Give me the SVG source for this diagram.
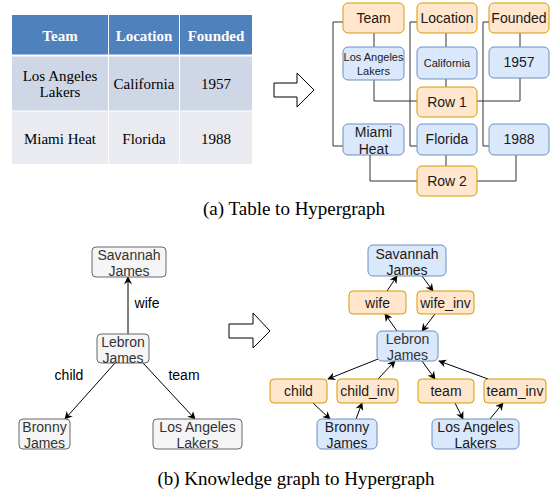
<svg xmlns="http://www.w3.org/2000/svg" width="554" height="495" viewBox="0 0 554 495">
<style>
.tt{font-family:"Liberation Serif","Times New Roman",serif;font-size:15px;fill:#000;text-anchor:middle}
.th{font-family:"Liberation Serif","Times New Roman",serif;font-size:15px;font-weight:bold;fill:#fff;text-anchor:middle}
.cap{font-family:"Liberation Serif","Times New Roman",serif;font-size:19px;fill:#000;text-anchor:middle}
.s{font-family:"Liberation Sans",Arial,sans-serif;font-size:14px;fill:#1a1a1a;text-anchor:middle}
.sm{font-family:"Liberation Sans",Arial,sans-serif;font-size:11px;fill:#1a1a1a;text-anchor:middle}
.g{font-family:"Liberation Sans",Arial,sans-serif;font-size:14px;fill:#333;text-anchor:middle}
.lb{font-family:"Liberation Sans",Arial,sans-serif;font-size:14px;fill:#000;text-anchor:middle}
.o{fill:#ffe6cc;stroke:#d79b00;stroke-width:1}
.b{fill:#dae8fc;stroke:#6c8ebf;stroke-width:1}
.gr{fill:#f5f5f5;stroke:#666;stroke-width:1}
.ln{fill:none;stroke:#333;stroke-width:1}
.ar{fill:none;stroke:#000;stroke-width:1;marker-end:url(#ah)}
.big{fill:#fff;stroke:#000;stroke-width:1}
</style>
<defs>
<marker id="ah" viewBox="0 0 10 10" refX="9" refY="5" markerWidth="8" markerHeight="8" markerUnits="userSpaceOnUse" orient="auto">
<path d="M0,0 L10,5 L0,10 L3,5 z" fill="#000"/>
</marker>
</defs>

<!-- Table -->
<g id="table">
<rect x="12" y="15" width="240" height="40" fill="#4f81bd"/>
<rect x="12" y="56" width="240" height="55" fill="#cfd7e6"/>
<rect x="12" y="111" width="240" height="53" fill="#e9ebf0"/>
<line x1="108.5" y1="15" x2="108.5" y2="164" stroke="#fff" stroke-width="1"/>
<line x1="179.5" y1="15" x2="179.5" y2="164" stroke="#fff" stroke-width="1"/>
<line x1="12" y1="55.5" x2="252" y2="55.5" stroke="#fff" stroke-width="2"/>
<line x1="12" y1="111" x2="252" y2="111" stroke="#fff" stroke-width="1"/>
<text class="th" x="60" y="41">Team</text>
<text class="th" x="144" y="41">Location</text>
<text class="th" x="216" y="41">Founded</text>
<text class="tt" x="60" y="81">Los Angeles</text>
<text class="tt" x="60" y="97">Lakers</text>
<text class="tt" x="144" y="89">California</text>
<text class="tt" x="216" y="89">1957</text>
<text class="tt" x="60" y="144">Miami Heat</text>
<text class="tt" x="144" y="144">Florida</text>
<text class="tt" x="216" y="144">1988</text>
</g>

<g id="bigarrow1"><polygon class="big" points="274,83 297,83 297,73 314,90 297,107 297,97 274,97"/></g>

<!-- Top hypergraph connectors -->
<g id="hyper-connectors">
<polyline class="ln" points="343,22 333,22 333,146 343,146"/>
<polyline class="ln" points="417,22 410,22 410,146 417,146"/>
<polyline class="ln" points="489,22 483,22 483,146 489,146"/>
<line class="ln" x1="374" y1="33" x2="374" y2="47"/>
<line class="ln" x1="446" y1="33" x2="446" y2="47"/>
<line class="ln" x1="520" y1="33" x2="520" y2="47"/>
<polyline class="ln" points="374,80 374,101 417,101"/>
<polyline class="ln" points="477,101 520,101 520,78"/>
<line class="ln" x1="446" y1="79" x2="446" y2="87"/>
<polyline class="ln" points="370,155 370,181 417,181"/>
<polyline class="ln" points="477,181 516,181 516,155"/>
<line class="ln" x1="446" y1="155" x2="446" y2="166"/>
</g>

<g id="h-team"><rect class="o" x="343" y="3" width="61" height="30" rx="5"/><text class="s" x="373.5" y="23">Team</text></g>
<g id="h-location"><rect class="o" x="417" y="3" width="60" height="30" rx="5"/><text class="s" x="447" y="23">Location</text></g>
<g id="h-founded"><rect class="o" x="489" y="3" width="60" height="30" rx="5"/><text class="s" x="519" y="23">Founded</text></g>
<g id="h-lal"><rect class="b" x="343" y="47" width="61" height="33" rx="5"/><text class="sm" x="373.5" y="61">Los Angeles</text><text class="sm" x="373.5" y="75">Lakers</text></g>
<g id="h-california"><rect class="b" x="417" y="47" width="60" height="32" rx="5"/><text class="sm" x="447" y="67">California</text></g>
<g id="h-1957"><rect class="b" x="489" y="47" width="60" height="31" rx="5"/><text class="s" x="519" y="67">1957</text></g>
<g id="h-row1"><rect class="o" x="417" y="87" width="60" height="30" rx="5"/><text class="s" x="447" y="107">Row 1</text></g>
<g id="h-miami"><rect class="b" x="343" y="124" width="61" height="31" rx="5"/><text class="s" x="373.5" y="137">Miami</text><text class="s" x="373.5" y="154">Heat</text></g>
<g id="h-florida"><rect class="b" x="417" y="124" width="60" height="31" rx="5"/><text class="s" x="447" y="144">Florida</text></g>
<g id="h-1988"><rect class="b" x="489" y="124" width="60" height="31" rx="5"/><text class="s" x="519" y="144">1988</text></g>
<g id="h-row2"><rect class="o" x="417" y="166" width="60" height="30" rx="5"/><text class="s" x="447" y="186">Row 2</text></g>

<text class="cap" x="294" y="215">(a) Table to Hypergraph</text>

<!-- Knowledge graph -->
<g id="kg-connectors">
<line class="ar" x1="128" y1="334" x2="128" y2="277"/>
<line class="ar" x1="115" y1="363" x2="65" y2="419"/>
<line class="ar" x1="143" y1="363" x2="195" y2="419"/>
<text class="lb" x="147" y="308">wife</text>
<text class="lb" x="69" y="380">child</text>
<text class="lb" x="184" y="380">team</text>
</g>
<g id="kg-savannah"><rect class="gr" x="92" y="247" width="74" height="30" rx="4"/><text class="g" x="129" y="260">Savannah</text><text class="g" x="129" y="276">James</text></g>
<g id="kg-lebron"><rect class="gr" x="97" y="334" width="52" height="29" rx="4"/><text class="g" x="123" y="347">Lebron</text><text class="g" x="123" y="363">James</text></g>
<g id="kg-bronny"><rect class="gr" x="19" y="419" width="51" height="30" rx="4"/><text class="g" x="44.5" y="432">Bronny</text><text class="g" x="44.5" y="448">James</text></g>
<g id="kg-lal"><rect class="gr" x="153" y="419" width="89" height="30" rx="4"/><text class="g" x="197.5" y="432">Los Angeles</text><text class="g" x="197.5" y="448">Lakers</text></g>

<g id="bigarrow2"><polygon class="big" points="229,324 253,324 253,313 270,331 253,348 253,338 229,338"/></g>

<!-- Hypergraph from KG -->
<g id="hkg-connectors">
<line class="ar" x1="387" y1="291" x2="397" y2="276"/>
<line class="ar" x1="422" y1="276" x2="433" y2="291"/>
<line class="ar" x1="397" y1="331" x2="385" y2="314"/>
<line class="ar" x1="435" y1="314" x2="422" y2="331"/>
<line class="ar" x1="378" y1="359" x2="328" y2="379"/>
<line class="ar" x1="378" y1="379" x2="395" y2="361"/>
<line class="ar" x1="422" y1="361" x2="435" y2="379"/>
<line class="ar" x1="488" y1="379" x2="439" y2="361"/>
<line class="ar" x1="313" y1="403" x2="330" y2="419"/>
<line class="ar" x1="356" y1="419" x2="362" y2="403"/>
<line class="ar" x1="455" y1="403" x2="463" y2="419"/>
<line class="ar" x1="490" y1="419" x2="503" y2="403"/>
</g>
<g id="hkg-savannah"><rect class="b" x="368" y="245" width="78" height="31" rx="5"/><text class="s" x="407" y="259">Savannah</text><text class="s" x="407" y="275">James</text></g>
<g id="hkg-wife"><rect class="o" x="349" y="291" width="57" height="23" rx="4"/><text class="s" x="377.5" y="307.5">wife</text></g>
<g id="hkg-wifeinv"><rect class="o" x="417" y="291" width="57" height="23" rx="4"/><text class="s" x="445.5" y="307.5">wife_inv</text></g>
<g id="hkg-lebron"><rect class="b" x="377" y="331" width="61" height="30" rx="5"/><text class="g" x="407.5" y="344">Lebron</text><text class="g" x="407.5" y="360">James</text></g>
<g id="hkg-child"><rect class="o" x="270" y="379" width="57" height="24" rx="4"/><text class="s" x="298.5" y="396">child</text></g>
<g id="hkg-childinv"><rect class="o" x="337" y="379" width="61" height="24" rx="4"/><text class="s" x="367.5" y="396">child_inv</text></g>
<g id="hkg-team"><rect class="o" x="418" y="379" width="56" height="24" rx="4"/><text class="s" x="446" y="396">team</text></g>
<g id="hkg-teaminv"><rect class="o" x="484" y="379" width="62" height="24" rx="4"/><text class="s" x="515" y="396">team_inv</text></g>
<g id="hkg-bronny"><rect class="b" x="317" y="419" width="60" height="30" rx="5"/><text class="s" x="347" y="432">Bronny</text><text class="s" x="347" y="448">James</text></g>
<g id="hkg-lal"><rect class="b" x="432" y="419" width="87" height="30" rx="5"/><text class="s" x="475.5" y="432">Los Angeles</text><text class="s" x="475.5" y="448">Lakers</text></g>

<text class="cap" x="296" y="485">(b) Knowledge graph to Hypergraph</text>
</svg>
